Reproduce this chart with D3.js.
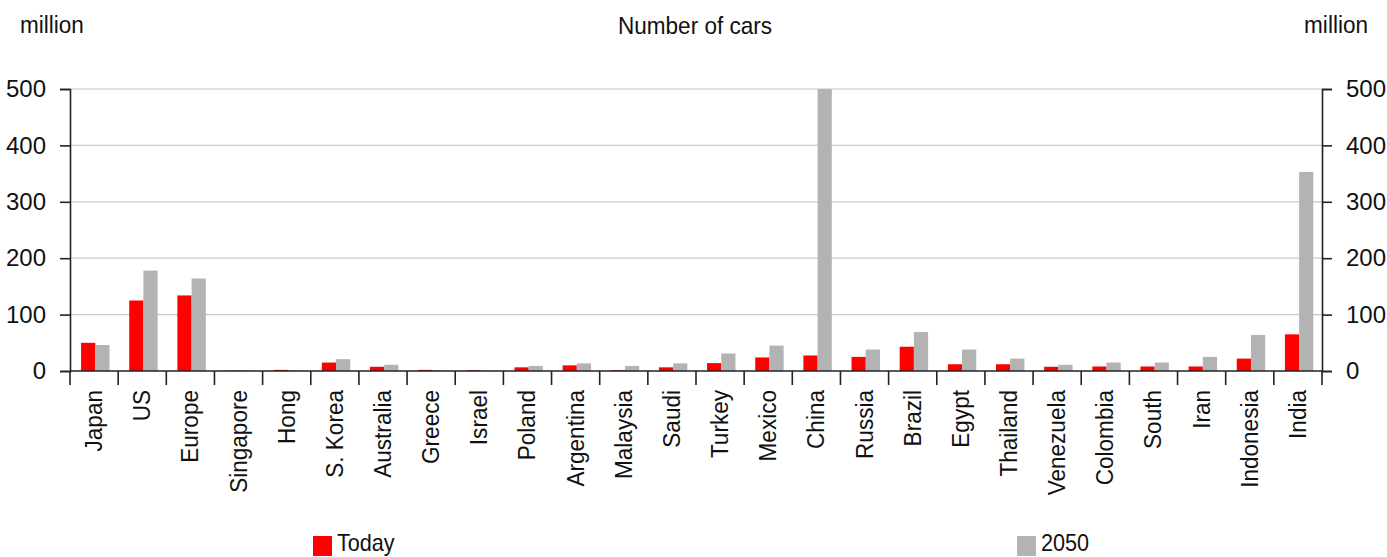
<!DOCTYPE html>
<html><head><meta charset="utf-8">
<script src="https://cdn.jsdelivr.net/npm/d3@7"></script>
<style>
body{margin:0;background:#fff;}
text{font-family:"Liberation Sans",Arial,sans-serif;fill:#111;}
</style></head>
<body><svg id="c" width="1387" height="557"></svg>
<script>
const categories = ["Japan","US","Europe","Singapore","Hong","S. Korea","Australia","Greece","Israel","Poland","Argentina","Malaysia","Saudi","Turkey","Mexico","China","Russia","Brazil","Egypt","Thailand","Venezuela","Colombia","South","Iran","Indonesia","India"];
const today = [50,125,134,0.5,2,15,7.5,2,1.5,6.5,10,1.5,6.5,14,24,27.5,25,43,12,12,7.5,8,8,8,22,65];
const y2050 = [46,178,164,1,1,21,11,1,0.5,9,13.5,9,13.5,31,45,500,38,69,38,22,11,15,15,25,64,353];
const yTicks = [0,100,200,300,400,500];
const seriesNames = ["Today","2050"];
const colors = ["#ff0000","#b3b3b3"];

const svg = d3.select("#c");
const L = 70, R = 1322, T = 89, B = 371;
const x = d3.scaleBand().domain(categories).range([L, R]).paddingInner(0).paddingOuter(0);
const y = d3.scaleLinear().domain([0,500]).range([B, T]);
const fs = "24px";
const narrow = "scale(0.94,1)";

// gridlines
svg.append("g").selectAll("line").data(yTicks.filter(d=>d>0)).join("line")
  .attr("x1",L).attr("x2",R).attr("y1",d=>y(d)).attr("y2",d=>y(d))
  .attr("stroke","#c8c8c8").attr("stroke-width",1.2);

// bars
const bw = x.bandwidth();
const barW = bw*0.295;
const off = bw*0.23;
const g = svg.append("g");
g.selectAll("rect.t").data(categories).join("rect").attr("class","t")
  .attr("x",(d)=>x(d)+off).attr("width",barW)
  .attr("y",(d,i)=>y(today[i])).attr("height",(d,i)=>B-y(today[i]))
  .attr("fill",colors[0]);
g.selectAll("rect.f").data(categories).join("rect").attr("class","f")
  .attr("x",(d)=>x(d)+off+barW).attr("width",barW)
  .attr("y",(d,i)=>y(y2050[i])).attr("height",(d,i)=>B-y(y2050[i]))
  .attr("fill",colors[1]);

// axes
const la = svg.append("g").attr("transform",`translate(${L},0)`)
  .call(d3.axisLeft(y).tickValues(yTicks).tickSize(10).tickPadding(14));
const ra = svg.append("g").attr("transform",`translate(${R},0)`)
  .call(d3.axisRight(y).tickValues(yTicks).tickSize(10).tickPadding(14));
[la,ra].forEach(a=>{
  a.select(".domain").attr("stroke","#222").attr("stroke-width",1.6);
  a.selectAll(".tick line").attr("stroke","#222").attr("stroke-width",1.6);
  a.selectAll("text").style("font-size",fs).attr("fill","#111")
   .style("font-family",'"Liberation Sans",Arial,sans-serif');
});

// x axis line and boundary ticks
const xa = svg.append("g");
xa.append("line").attr("x1",L).attr("x2",R).attr("y1",B).attr("y2",B).attr("stroke","#222").attr("stroke-width",1.6);
const bounds = categories.map(c=>x(c)).concat([R]);
xa.selectAll("line.tk").data(bounds).join("line").attr("class","tk")
  .attr("x1",d=>d).attr("x2",d=>d).attr("y1",B).attr("y2",B+14)
  .attr("stroke","#222").attr("stroke-width",1.6);
xa.selectAll("text").data(categories).join("text")
  .attr("transform",d=>`translate(${x(d)+bw/2+8},${B+19}) rotate(-90) ${narrow}`)
  .attr("text-anchor","end").style("font-size",fs).text(d=>d);

// titles
function label(t, px, py, anchor, size){
  svg.append("text").attr("transform",`translate(${px},${py}) ${narrow}`)
    .attr("text-anchor",anchor).style("font-size",size||fs).text(t);
}
label("Number of cars",695,34,"middle");
label("million",20,33,"start");
label("million",1368,33,"end");

// legend
const lg = [{n:seriesNames[0],c:colors[0],x:313},{n:seriesNames[1],c:colors[1],x:1017}];
lg.forEach(l=>{
  svg.append("rect").attr("x",l.x).attr("y",536).attr("width",19).attr("height",20).attr("fill",l.c);
  label(l.n,l.x+24,551,"start","23px");
});
</script></body></html>
